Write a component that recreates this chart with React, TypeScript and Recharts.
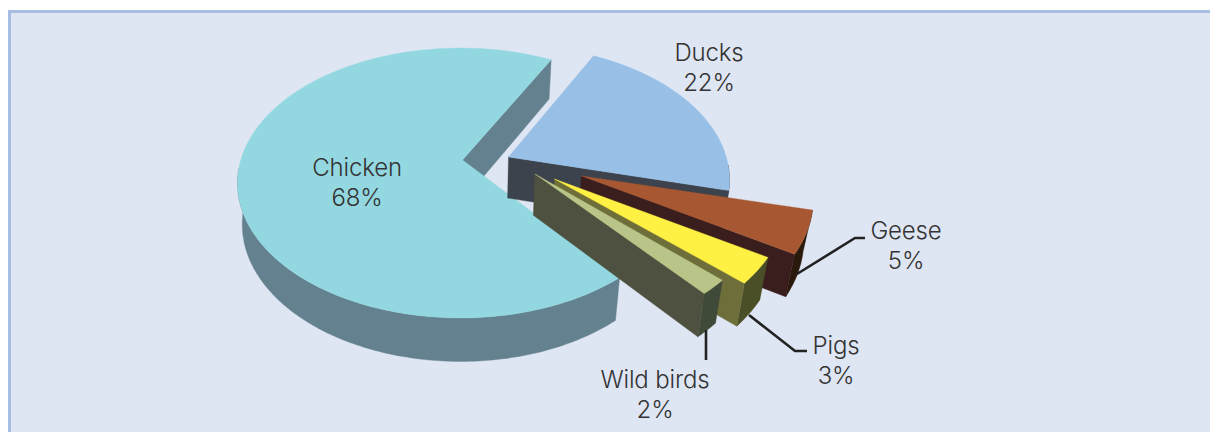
import { PieChart, Pie } from "recharts";

// drawing order, clockwise from the front edge of the big slice
const categories = ["Chicken", "Ducks", "Geese", "Pigs", "Wild birds"];
const shares = [68, 22, 5, 3, 2];

const topColors = ["#93d8e1", "#98bfe6", "#a75832", "#fff143", "#b9c588"];
const wallColors = ["#64818f", "#3c434d", "#3a1d1d", "#6e6e3a", "#4f5140"];
const rimColors = ["#64818f", "#3c434d", "#2a1a0c", "#4a4f28", "#3f4a38"];

// how far each slice is pulled out and how much it grows with perspective
const explode = [
  { dx: 0, dy: 0, scale: 1, trimStart: -3, trimEnd: -7.7 },
  { dx: 46, dy: -3, scale: 1, trimStart: -6.7, trimEnd: 1 },
  { dx: 119, dy: 16, scale: 1.048, trimStart: 1, trimEnd: 0.5 },
  { dx: 92, dy: 19, scale: 1.05, trimStart: 0.5, trimEnd: -0.7 },
  { dx: 72.5, dy: 14, scale: 1.05, trimStart: -1.7, trimEnd: -1.5 },
];

const labelSpots = [
  { x: 357, y: 176, line: "" },
  { x: 709, y: 61, line: "" },
  { x: 906, y: 239, line: "797,274 855,238 865,238" },
  { x: 836, y: 354, line: "749,315 795,351 807,351" },
  { x: 655, y: 388, line: "706,330 706,360" },
];

const pieData = categories.map((name, i) => ({ name, value: shares[i] }));

const TILT = 0.605;
const TIP_DX = 2;
const TIP_DY = -23;
const DEPTH = 41;

type Pt = [number, number];

// drop a point of the top face to the bottom face, lower face is a bit narrower
const sink = ([x, y]: Pt): Pt => [
  x - (x - 475) * (x < 475 ? 0.02 : 0.028),
  y + DEPTH + (y - 160) * 0.016,
];
const toPath = (pts: Pt[]) =>
  "M" + pts.map((p) => p[0].toFixed(1) + " " + p[1].toFixed(1)).join("L") + "Z";

function PieSlice(props: any) {
  const { cx, cy, outerRadius, startAngle, endAngle, index } = props;
  const i = index ?? categories.indexOf(props.name);
  const ex = explode[i];
  const from = startAngle + ex.trimStart;
  const to = endAngle + ex.trimEnd;
  const centerX = cx + ex.dx;
  const centerY = cy + ex.dy;
  const tip: Pt = [centerX + TIP_DX, centerY + TIP_DY];

  const arc: Pt[] = [];
  const front: Pt[] = []; // only the part of the edge that shows a rim
  const steps = Math.max(4, Math.round(Math.abs(from - to)));
  for (let s = 0; s <= steps; s++) {
    const a = ((from + ((to - from) * s) / steps) * Math.PI) / 180;
    const p: Pt = [
      centerX + outerRadius * ex.scale * Math.cos(a),
      centerY - outerRadius * ex.scale * TILT * Math.sin(a),
    ];
    arc.push(p);
    if (Math.sin(a) < 0.12) front.push(p);
  }
  const last = arc[arc.length - 1];

  const paths = [
    { d: toPath([...front, ...front.map(sink).reverse()]), fill: rimColors[i] },
    { d: toPath([tip, last, sink(last), sink(tip)]), fill: wallColors[i] },
    { d: toPath([tip, ...arc]), fill: topColors[i] },
  ];
  return (
    <g>
      {paths.map((p, k) => (
        <path key={k} d={p.d} fill={p.fill} stroke={p.fill} strokeWidth={0.4} />
      ))}
    </g>
  );
}

function SliceLabel(props: any) {
  const i = props.index;
  const spot = labelSpots[i];
  const textStyle = { fontSize: 24, fontWeight: 300, fill: "#333333", fontFamily: "Inter", letterSpacing: -0.15 };
  return (
    <g>
      {spot.line && <polyline points={spot.line} fill="none" stroke="#222222" strokeWidth={2.6} />}
      <text x={spot.x} y={spot.y} textAnchor="middle" style={textStyle}>
        {categories[i]}
      </text>
      <text x={spot.x} y={spot.y + 30} textAnchor="middle" style={textStyle}>
        {shares[i]}%
      </text>
    </g>
  );
}

export default function App() {
  return (
    <div style={{ position: "fixed", left: 0, top: 0, width: 1210, height: 432, overflow: "hidden", background: "#ffffff" }}>
      <div
        style={{
          position: "absolute",
          left: 8,
          top: 10,
          width: 1202,
          height: 422,
          boxSizing: "border-box",
          borderTop: "3px solid #a7bde3",
          borderLeft: "3px solid #a7bde3",
          background: "#dfe6f3",
        }}
      />
      <div style={{ position: "absolute", left: 0, top: 0 }}>
        <PieChart width={1210} height={432} margin={{ top: 0, right: 0, bottom: 0, left: 0 }}>
          <Pie
            data={pieData}
            dataKey="value"
            nameKey="name"
            cx={460.5}
            cy={183}
            innerRadius={0}
            outerRadius={223}
            startAngle={318.5}
            endAngle={-41.5}
            stroke="none"
            shape={PieSlice}
            label={SliceLabel}
            labelLine={false}
            isAnimationActive={false}
          />
        </PieChart>
      </div>
    </div>
  );
}
